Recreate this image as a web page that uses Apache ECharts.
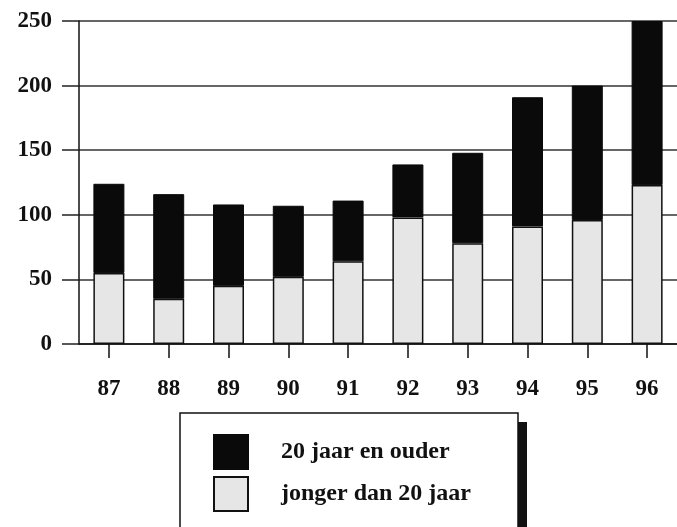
<!DOCTYPE html>
<html>
<head>
<meta charset="utf-8">
<script src="https://cdn.jsdelivr.net/npm/echarts@6/dist/echarts.min.js"></script>
<style>
  html, body, #main { width: 100%; height: 100%; margin: 0; background: #fff; }
</style>
</head>
<body>
<div id="main"></div>
<script>
  // jaren (19..)
  var years = ['87', '88', '89', '90', '91', '92', '93', '94', '95', '96'];
  // jonger dan 20 jaar (onderste deel)
  var jonger = [55, 35, 45, 52, 64, 98, 78, 91, 96, 123];
  // 20 jaar en ouder (bovenste deel)
  var ouder = [69, 81, 63, 55, 47, 41, 70, 100, 104, 127];
  var yTicks = [0, 50, 100, 150, 200, 250];

  var serif = '"Liberation Serif", "DejaVu Serif", serif';
  var chart = echarts.init(document.getElementById('main'));

  var option = {
    animation: false,
    backgroundColor: '#fff',
    grid: { left: 79, top: 21, bottom: 183, right: -12 },
    // legend frame with its black drop shadow
    graphic: [
      { type: 'rect', shape: { x: 189, y: 422, width: 338, height: 140 }, style: { fill: '#111' }, z: 1 },
      { type: 'rect', shape: { x: 180, y: 413, width: 338, height: 140 }, style: { fill: '#fff', stroke: '#111', lineWidth: 1.5 }, z: 2 }
    ],
    legend: {
      orient: 'vertical',
      left: 180,
      top: 413,
      height: 200,
      z: 5,
      data: ['20 jaar en ouder', 'jonger dan 20 jaar'],
      icon: 'rect',
      itemWidth: 34,
      itemHeight: 34,
      itemGap: 6,
      padding: [21, 10, 10, 33],
      textStyle: {
        fontFamily: serif,
        fontWeight: 'bold',
        fontSize: 24,
        color: '#111',
        padding: [0, 0, 0, 28]
      }
    },
    xAxis: {
      type: 'category',
      data: years,
      axisLine: { lineStyle: { color: '#111', width: 1.5 } },
      axisTick: { show: true, alignWithLabel: true, length: 14, lineStyle: { color: '#111', width: 1.5 } },
      axisLabel: { fontFamily: serif, fontWeight: 'bold', fontSize: 23, color: '#111', margin: 34 }
    },
    yAxis: {
      type: 'value',
      min: yTicks[0],
      max: yTicks[yTicks.length - 1],
      interval: 50,
      axisLine: { show: true, lineStyle: { color: '#111', width: 1.5 } },
      axisTick: { show: true, length: 17, lineStyle: { color: '#222', width: 1.5 } },
      axisLabel: { fontFamily: serif, fontWeight: 'bold', fontSize: 23, color: '#111', margin: 27 },
      splitLine: { show: true, lineStyle: { color: '#333', width: 1.5 } }
    },
    series: [
      {
        name: 'jonger dan 20 jaar',
        type: 'bar',
        stack: 'totaal',
        barWidth: 31,
        data: jonger,
        itemStyle: { color: '#e6e6e6', borderColor: '#111', borderWidth: 1.5 }
      },
      {
        name: '20 jaar en ouder',
        type: 'bar',
        stack: 'totaal',
        barWidth: 31,
        data: ouder,
        itemStyle: { color: '#0a0a0a', borderColor: '#0a0a0a', borderWidth: 1 }
      }
    ]
  };

  chart.setOption(option);
  window.onresize = chart.resize;
</script>
</body>
</html>
